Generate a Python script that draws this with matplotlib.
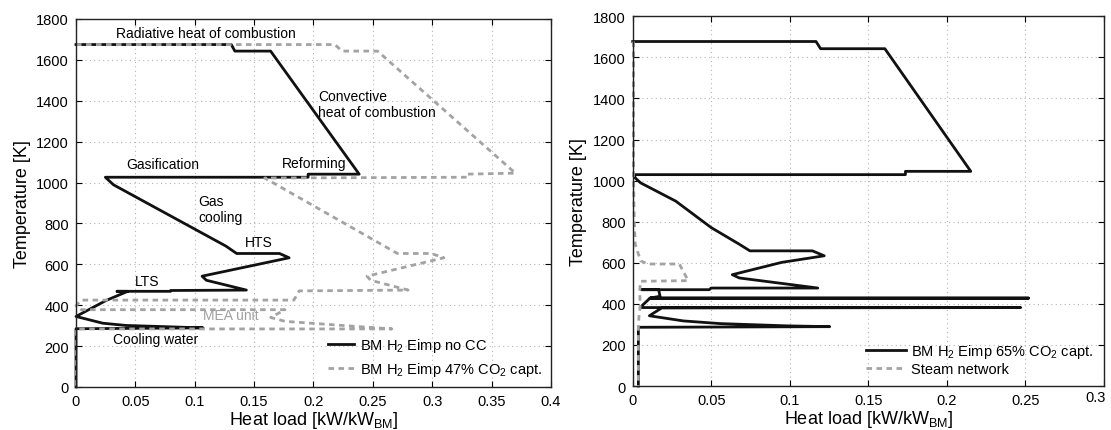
import matplotlib
matplotlib.use('Agg')
import matplotlib.pyplot as plt
import matplotlib.transforms as mtransforms

plt.rcParams['font.family'] = ['Liberation Sans', 'DejaVu Sans']
plt.rcParams['mathtext.fontset'] = 'custom'
plt.rcParams['mathtext.rm'] = 'Liberation Sans'

# left panel: heat load [kW/kW_BM] vs temperature [K]
nocc_q = [0, 0.1308, 0.1338, 0.1639, 0.2385, 0.1955, 0.1955, 0.0247, 0.0316, 0.1263,
          0.1353, 0.1714, 0.1795, 0.1062, 0.1098, 0.1435, 0.0797, 0.0797, 0.0346, 0.0436,
          0.0253, 0, 0.0225, 0.042, 0.070, 0.107, 0, 0]
nocc_t = [1675, 1675, 1643, 1643, 1041, 1041, 1026, 1026, 989, 689,
          653, 653, 632, 542, 522, 474, 472, 468, 468, 468,
          423, 345, 312, 301, 296, 289, 285, 0]

capt47_q = [0, 0.218, 0.224, 0.254, 0.370, 0.329, 0.329, 0.159, 0.2707, 0.2992,
            0.3098, 0.2451, 0.2481, 0.2797, 0.188, 0.1835, 0.0045, 0, 0.0045, 0.176,
            0.164, 0.176, 0.266, 0, 0]
capt47_t = [1675, 1675, 1643, 1643, 1046, 1041, 1026, 1022, 653, 653,
            632, 542, 522, 474, 470, 425, 425, 397, 378, 378,
            340, 321, 284, 284, 0]

# right panel
capt65_q = [0, 0.1167, 0.1196, 0.1605, 0.2152, 0.1736, 0.1736, 0.001, 0.0016, 0.005,
            0.0274, 0.050, 0.0679, 0.0746, 0.1144, 0.1219, 0.0949, 0.0634, 0.0679, 0.1178,
            0.0499, 0.0488, 0.0057, 0.0165, 0.0174, 0.011, 0.252, 0.011, 0.0047, 0.247,
            0.0184, 0.0106, 0.0322, 0.0555, 0.0979, 0.1254, 0.0036, 0.0036]
capt65_t = [1677, 1677, 1642, 1642, 1045, 1045, 1029, 1029, 1013, 989,
            900, 771, 690, 658, 658, 634, 602, 542, 526, 477,
            477, 469, 469, 469, 437, 428, 428, 428, 382, 382,
            380, 342, 317, 304, 293, 289, 286, 0]

steam_q = [0.0005, 0.0005, 0.001, 0.0016, 0.005, 0.0094, 0.0297, 0.0353, 0.005, 0.0045,
           0.0047, 0.004, 0.0036, 0.0036]
steam_t = [1677, 1029, 800, 690, 610, 594, 594, 513, 510, 470,
           382, 340, 288, 0]

left_xticks = [0, 0.05, 0.1, 0.15, 0.2, 0.25, 0.3, 0.35, 0.4]
left_xlabels = ['0', '0.05', '0.1', '0.15', '0.2', '0.25', '0.3', '0.35', '0.4']
right_xticks = [0, 0.05, 0.1, 0.15, 0.2, 0.25, 0.3]
right_xlabels = ['0', '0.05', '0.1', '0.15', '0.2', '0.25', '0.3']
yticks = list(range(0, 1801, 200))

notes = [
    ('Radiative heat of combustion', 0.034, 1730, 'left', 'black'),
    ('Convective\nheat of combustion', 0.204, 1386, 'left', 'black'),
    ('Gasification', 0.0734, 1090, 'center', 'black'),
    ('Reforming', 0.2006, 1095, 'center', 'black'),
    ('Gas\ncooling', 0.1029, 871, 'left', 'black'),
    ('HTS', 0.1537, 709, 'center', 'black'),
    ('LTS', 0.0598, 516, 'center', 'black'),
    ('MEA unit', 0.1308, 354, 'center', '#a0a0a0'),
    ('Cooling water', 0.0671, 235, 'center', 'black'),
]

GRAY = '#a3a3a3'
DASH = (0, (2.0, 1.6))


def style_axes(ax, xticks, xlabels, xmax):
    ax.set_xlim(0, xmax)
    ax.set_ylim(0, 1800)
    ax.set_xticks(xticks)
    ax.set_xticklabels(xlabels)
    ax.set_yticks(yticks)
    ax.tick_params(direction='in', top=True, right=True, labelsize=10.5,
                   length=4, width=0.8, pad=5)
    ax.grid(True, linestyle=(0, (1, 3)), color='#b5b5b5', linewidth=0.8)
    for s in ax.spines.values():
        s.set_linewidth(1.0)
        s.set_color('#222222')
    ax.set_xlabel(r'Heat load [kW/kW$_\mathregular{BM}$]', fontsize=13, labelpad=1)
    ax.set_ylabel('Temperature [K]', fontsize=13, labelpad=4)


fig = plt.figure(figsize=(11.11, 4.31), dpi=100)
ax1 = fig.add_axes([0.0684, 0.0998, 0.4275, 0.8538])
ax2 = fig.add_axes([0.5695, 0.102, 0.4242, 0.858])

ax1.plot(nocc_q, nocc_t, color='#111111', lw=2.0, clip_on=False,
         label=r'BM H$_\mathregular{2}$ Eimp no CC')
ax1.plot(capt47_q, capt47_t, color=GRAY, lw=2.0, linestyle=DASH, clip_on=False,
         label=r'BM H$_\mathregular{2}$ Eimp 47% CO$_\mathregular{2}$ capt.')
for txt, x, y, ha, col in notes:
    ax1.text(x, y, txt, ha=ha, va='center', fontsize=10, color=col, linespacing=1.2)
style_axes(ax1, left_xticks, left_xlabels, 0.4)
ax1.legend(loc='lower right', frameon=False, fontsize=10.5, handlelength=1.8,
           handletextpad=0.4, labelspacing=0.45, borderaxespad=0.2)

ax2.plot(capt65_q, capt65_t, color='#111111', lw=2.0, clip_on=False,
         label=r'BM H$_\mathregular{2}$ Eimp 65% CO$_\mathregular{2}$ capt.')
ax2.plot(steam_q, steam_t, color=GRAY, lw=2.0, linestyle=DASH, clip_on=False,
         label='Steam network')
style_axes(ax2, right_xticks, right_xlabels, 0.3)
ax2.legend(loc='lower right', frameon=False, fontsize=10.5, handlelength=2.7,
           handletextpad=0.4, labelspacing=0.15, borderaxespad=0.3)

# last tick label on the right panel sits a bit left and up, as in the figure
last = ax2.get_xticklabels()[-1]
last.set_transform(last.get_transform() +
                   mtransforms.ScaledTranslation(-8 / 100, 3 / 100, fig.dpi_scale_trans))

fig.savefig('out.png', dpi=100)
